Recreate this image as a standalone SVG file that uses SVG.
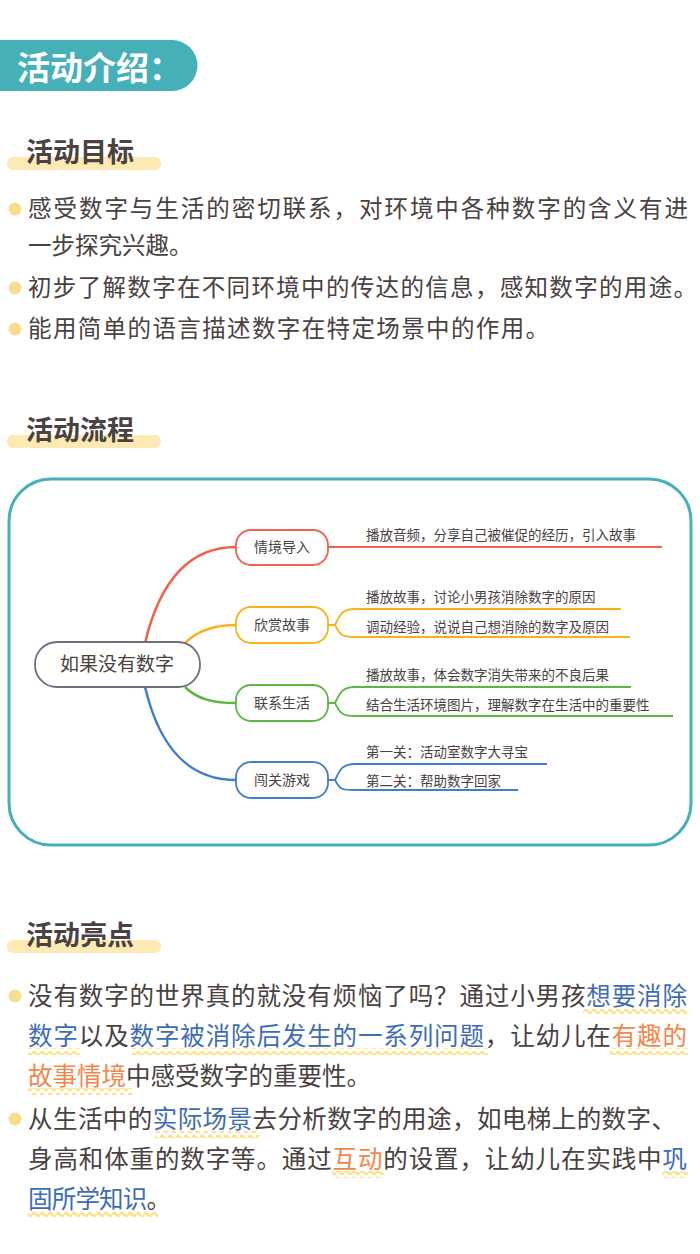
<svg xmlns="http://www.w3.org/2000/svg" width="700" height="1254" viewBox="0 0 700 1254">
<defs>
<style>
text{font-family:"Noto Sans CJK SC","Noto Sans",sans-serif;fill:#4a4141}
.h{font-size:27px;font-weight:bold}
.hl{fill:#fde9b3}
.dot{fill:#f9dd8e}
.p{font-size:23.5px}
.q{font-size:24.5px}
.b{fill:#3d6db6}
.o{fill:#f2874a}
.br{font-size:14px}
.lf{font-size:13.5px}
.c{fill:none;stroke-width:2.5}
.l{fill:none;stroke-width:1.8}
</style>
<pattern id="wv" width="8" height="7" patternUnits="userSpaceOnUse">
<path d="M0 3.5 Q2 0.5 4 3.5 T8 3.5" fill="none" stroke="#fde38f" stroke-width="2.8"/>
</pattern>
</defs>
<rect width="700" height="1254" fill="#fff"/>
<g id="title">
<path d="M0 40 H172 A25.5 25.5 0 0 1 172 91 H0 Z" fill="#45b0b8"/>
<text x="17" y="80" style="font-size:33px;font-weight:bold;fill:#fff">活动介绍：</text>
</g>
<g id="goals">
<rect class="hl" x="7" y="157" width="154" height="13" rx="6"/>
<text class="h" x="26" y="162">活动目标</text>
<circle class="dot" cx="15" cy="209" r="6.5"/>
<text class="p" x="28" y="217" textLength="660" lengthAdjust="spacing">感受数字与生活的密切联系，对环境中各种数字的含义有进</text>
<text class="p" x="28" y="254">一步探究兴趣。</text>
<circle class="dot" cx="15" cy="288" r="6.5"/>
<text class="p" x="28" y="296" textLength="669" lengthAdjust="spacing">初步了解数字在不同环境中的传达的信息，感知数字的用途。</text>
<circle class="dot" cx="15" cy="329" r="6.5"/>
<text class="p" x="28" y="337" textLength="521" lengthAdjust="spacing">能用简单的语言描述数字在特定场景中的作用。</text>
</g>
<g id="flow-head">
<rect class="hl" x="7" y="435" width="154" height="13" rx="6"/>
<text class="h" x="26" y="440">活动流程</text>
</g>
<rect x="9" y="479" width="682" height="366" rx="42" fill="#fff" stroke="#45b0b8" stroke-width="3"/>
<g id="connectors">
<path class="c" stroke="#f4604a" d="M145 643 C160 580 190 547 236 547"/>
<path class="c" stroke="#fcb019" d="M185 643 C198 630 215 625 236 625"/>
<path class="c" stroke="#5bb940" d="M185 687 C198 700 215 703 236 703"/>
<path class="c" stroke="#3f7ed0" d="M145 687 C160 750 190 780 236 780"/>
<path class="l" stroke="#f4604a" d="M328 547 H662"/>
<path class="l" stroke="#fcb019" d="M328 625 H335 C340 615 342 609 355 609 H621 M335 625 C340 635 342 637 355 637 H630"/>
<path class="l" stroke="#5bb940" d="M328 703 H335 C340 693 342 687 355 687 H631 M335 703 C340 713 342 716 355 716 H673"/>
<path class="l" stroke="#3f7ed0" d="M328 780 H335 C340 770 342 764 355 764 H547 M335 780 C340 790 342 790 355 790 H518"/>
</g>
<g id="root"><rect x="35" y="642" width="165" height="45" rx="22" fill="#fff" stroke="#6a7080" stroke-width="1.8"/><text x="117" y="671" text-anchor="middle" style="font-size:19px">如果没有数字</text></g>
<g id="n1"><rect x="236" y="530" width="92" height="35" rx="15" fill="#fff" stroke="#f4604a" stroke-width="1.8"/><text class="br" x="282" y="552" text-anchor="middle">情境导入</text></g>
<g id="n2"><rect x="236" y="607" width="92" height="36" rx="15" fill="#fff" stroke="#fcb019" stroke-width="1.8"/><text class="br" x="282" y="630" text-anchor="middle">欣赏故事</text></g>
<g id="n3"><rect x="236" y="685" width="92" height="36" rx="15" fill="#fff" stroke="#5bb940" stroke-width="1.8"/><text class="br" x="282" y="708" text-anchor="middle">联系生活</text></g>
<g id="n4"><rect x="236" y="762" width="92" height="36" rx="15" fill="#fff" stroke="#3f7ed0" stroke-width="1.8"/><text class="br" x="282" y="785" text-anchor="middle">闯关游戏</text></g>
<g id="leaves">
<text class="lf" x="366" y="540">播放音频，分享自己被催促的经历，引入故事</text>
<text class="lf" x="366" y="602">播放故事，讨论小男孩消除数字的原因</text>
<text class="lf" x="366" y="632">调动经验，说说自己想消除的数字及原因</text>
<text class="lf" x="366" y="680">播放故事，体会数字消失带来的不良后果</text>
<text class="lf" x="366" y="710">结合生活环境图片，理解数字在生活中的重要性</text>
<text class="lf" x="366" y="757">第一关：活动室数字大寻宝</text>
<text class="lf" x="366" y="786">第二关：帮助数字回家</text>
</g>
<g id="highlights">
<rect class="hl" x="7" y="940" width="154" height="13" rx="6"/>
<text class="h" x="26" y="945">活动亮点</text>
<g fill="url(#wv)">
<rect x="583" y="1008" width="104" height="7"/>
<rect x="28" y="1048" width="52" height="7"/>
<rect x="132" y="1048" width="356" height="7"/>
<rect x="610" y="1048" width="78" height="7"/>
<rect x="28" y="1088" width="104" height="7"/>
<rect x="155" y="1131" width="104" height="7"/>
<rect x="332" y="1171" width="52" height="7"/>
<rect x="662" y="1171" width="26" height="7"/>
<rect x="28" y="1211" width="130" height="7"/>
</g>
<circle class="dot" cx="15" cy="996" r="6.5"/>
<text class="q" x="28" y="1005" textLength="659" lengthAdjust="spacing">没有数字的世界真的就没有烦恼了吗？通过小男孩<tspan class="b">想要消除</tspan></text>
<text class="q" x="28" y="1045" textLength="659" lengthAdjust="spacing"><tspan class="b">数字</tspan>以及<tspan class="b">数字被消除后发生的一系列问题</tspan>，让幼儿在<tspan class="o">有趣的</tspan></text>
<text class="q" x="28" y="1085" textLength="343" lengthAdjust="spacing"><tspan class="o">故事情境</tspan>中感受数字的重要性。</text>
<circle class="dot" cx="15" cy="1119" r="6.5"/>
<text class="q" x="28" y="1128" textLength="648" lengthAdjust="spacing">从生活中的<tspan class="b">实际场景</tspan>去分析数字的用途，如电梯上的数字、</text>
<text class="q" x="28" y="1168" textLength="659" lengthAdjust="spacing">身高和体重的数字等。通过<tspan class="o">互动</tspan>的设置，让幼儿在实践中<tspan class="b">巩</tspan></text>
<text class="q" x="28" y="1208" textLength="143" lengthAdjust="spacing"><tspan class="b">固所学知识</tspan>。</text>
</g>
</svg>
